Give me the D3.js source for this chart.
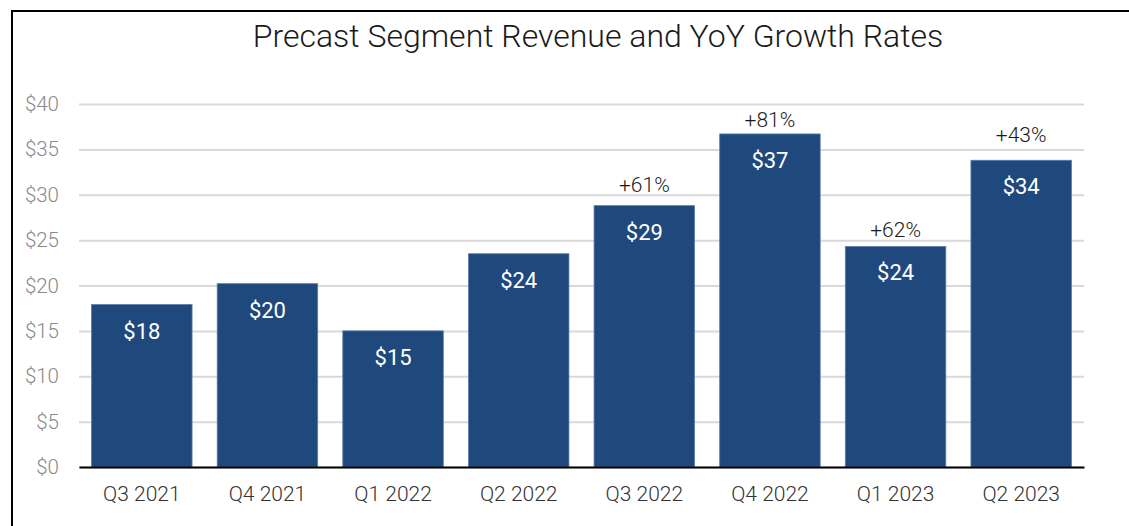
<!DOCTYPE html>
<html>
<head>
<meta charset="utf-8">
<script src="https://cdn.jsdelivr.net/npm/d3@7"></script>
<style>
  html, body { margin: 0; padding: 0; background: #fff; }
  svg { display: block; font-family: Roboto, "Liberation Sans", sans-serif; }
</style>
</head>
<body>
<svg id="chart" width="1129" height="526"></svg>
<script>
// chart data
var quarters = ["Q3 2021", "Q4 2021", "Q1 2022", "Q2 2022", "Q3 2022", "Q4 2022", "Q1 2023", "Q2 2023"];
var revenue = [17.9, 20.2, 15.0, 23.5, 28.8, 36.7, 24.3, 33.8];
var valueLabels = ["$18", "$20", "$15", "$24", "$29", "$37", "$24", "$34"];
var growthLabels = [null, null, null, null, "+61%", "+81%", "+62%", "+43%"];
var yTicks = [0, 5, 10, 15, 20, 25, 30, 35, 40];

var svg = d3.select("#chart");
var margin = {left: 79, right: 45, top: 104, bottom: 59};
var width = 1129, height = 526;

// frame (left + top edges visible)
svg.append("path")
    .attr("d", "M12,526 L12,11 L1129,11")
    .attr("fill", "none")
    .attr("stroke", "#000")
    .attr("stroke-width", 2);

// title
svg.append("text")
    .attr("x", 598)
    .attr("y", 47)
    .attr("text-anchor", "middle")
    .attr("font-size", 32)
    .attr("font-weight", 300)
    .attr("fill", "#1a1a1a")
    .text("Precast Segment Revenue and YoY Growth Rates");

var x = d3.scaleBand()
    .domain(quarters)
    .range([margin.left, width - margin.right])
    .paddingInner(0.2)
    .paddingOuter(0.1);

var y = d3.scaleLinear()
    .domain([0, 40])
    .range([height - margin.bottom, margin.top]);

// gridlines
var yAxis = d3.axisLeft(y)
    .tickValues(yTicks)
    .tickSize(-(width - margin.right - margin.left))
    .tickPadding(20)
    .tickFormat(function(d){ return "$" + d; });

var gy = svg.append("g")
    .attr("transform", "translate(" + margin.left + ",0)")
    .call(yAxis);
gy.select(".domain").remove();
gy.selectAll(".tick line")
    .attr("stroke", "#d9d9d9")
    .attr("stroke-width", 2);
gy.selectAll(".tick text")
    .attr("font-size", 20.5)
    .attr("font-weight", 300)
    .attr("fill", "#8a8a8a")
    .attr("font-family", "Roboto, sans-serif");

// bars
var data = quarters.map(function(q, i){
    return {q: q, v: revenue[i], label: valueLabels[i], growth: growthLabels[i], i: i};
});

svg.append("g").selectAll("rect")
    .data(data)
    .enter().append("rect")
    .attr("x", function(d){ return x(d.q); })
    .attr("y", function(d){ return y(d.v); })
    .attr("width", x.bandwidth())
    .attr("height", function(d){ return y(0) - y(d.v); })
    .attr("fill", "#1f497d")
    .attr("stroke", "#5b7cab")
    .attr("stroke-width", 0.8);

// value labels inside bars
svg.append("g").selectAll("text")
    .data(data)
    .enter().append("text")
    .attr("x", function(d){ return x(d.q) + x.bandwidth() / 2; })
    .attr("y", function(d){ return y(d.v) + 34; })
    .attr("text-anchor", "middle")
    .attr("font-size", 22)
    .attr("fill", "#fff")
    .text(function(d){ return d.label; });

// growth labels above bars (gap above bar varies in the original layout)
var growthGap = [0, 0, 0, 0, 14, 7, 9, 18];
svg.append("g").selectAll("text")
    .data(data.filter(function(d){ return d.growth; }))
    .enter().append("text")
    .attr("x", function(d){ return x(d.q) + x.bandwidth() / 2; })
    .attr("y", function(d){ return y(d.v) - growthGap[d.i]; })
    .attr("text-anchor", "middle")
    .attr("font-size", 21)
    .attr("font-weight", 300)
    .attr("fill", "#1a1a1a")
    .text(function(d){ return d.growth; });

// x axis
var xAxis = d3.axisBottom(x).tickSize(0).tickPadding(19);
var gx = svg.append("g")
    .attr("transform", "translate(0," + y(0) + ")")
    .call(xAxis);
gx.select(".domain")
    .attr("stroke", "#000")
    .attr("stroke-width", 2);
gx.selectAll(".tick text")
    .attr("font-size", 21)
    .attr("font-weight", 300)
    .attr("fill", "#333")
    .attr("font-family", "Roboto, sans-serif");
</script>
</body>
</html>
